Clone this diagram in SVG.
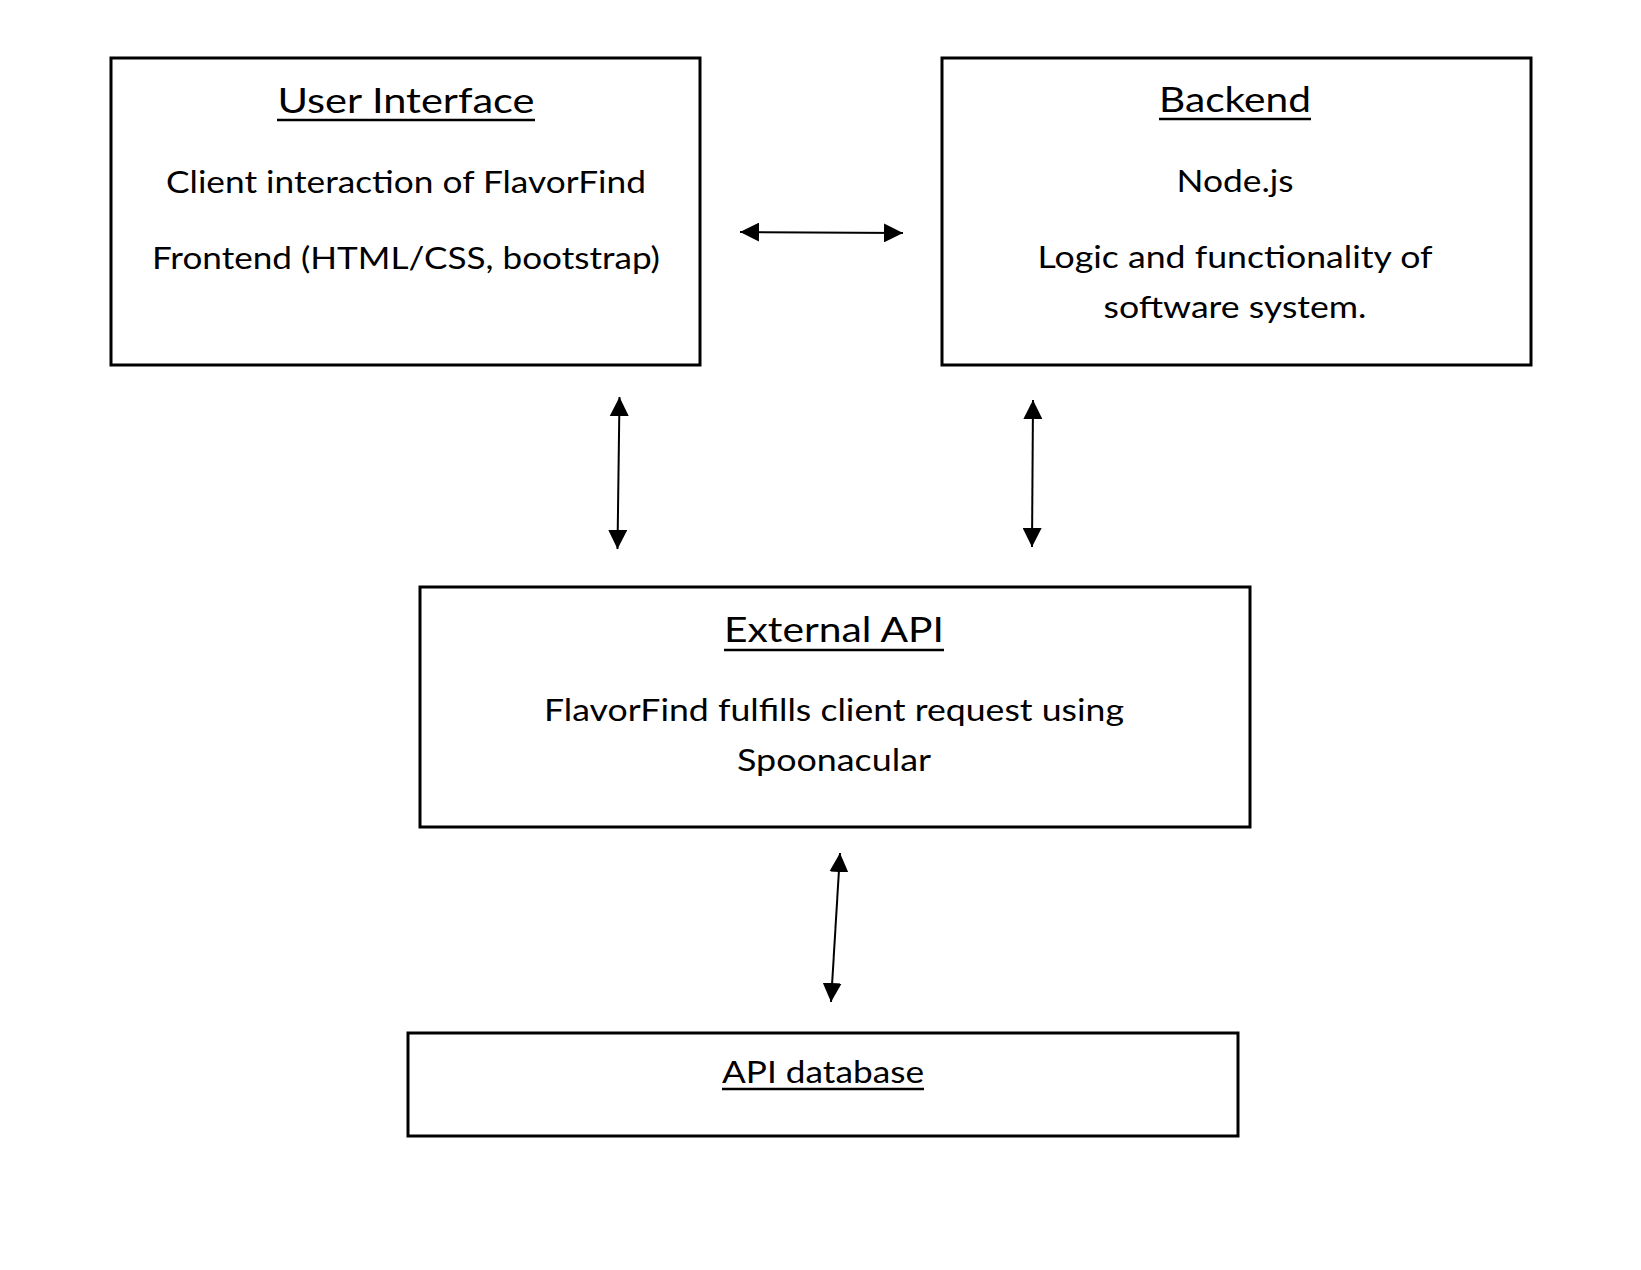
<svg xmlns="http://www.w3.org/2000/svg" width="1641" height="1270" viewBox="0 0 1641 1270">
<style>
.box{fill:#fff;stroke:#000;stroke-width:3}
.h{font-family:Lato,"Liberation Sans",sans-serif;font-size:35px;fill:#000}
.t{font-family:Lato,"Liberation Sans",sans-serif;font-size:31px;fill:#000}
.u{stroke:#000;stroke-width:2.5}
.c{stroke:#000;stroke-width:2;fill:none}
</style>
<defs>
<marker id="ah" viewBox="0 0 10 10" refX="10" refY="5" markerWidth="19" markerHeight="19" markerUnits="userSpaceOnUse" orient="auto-start-reverse">
<path d="M0,0 L10,5 L0,10 z" fill="#000"/>
</marker>
</defs>
<rect width="1641" height="1270" fill="#fff"/>
<g id="ui">
<rect class="box" x="111" y="58" width="589" height="307"/>
<text class="h" x="406" y="113" text-anchor="middle" textLength="257" lengthAdjust="spacingAndGlyphs">User Interface</text>
<line class="u" x1="277" y1="120" x2="535" y2="120"/>
<text class="t" x="406" y="193" text-anchor="middle" textLength="480" lengthAdjust="spacingAndGlyphs">Client interaction of FlavorFind</text>
<text class="t" x="406" y="269" text-anchor="middle" textLength="508" lengthAdjust="spacingAndGlyphs">Frontend (HTML/CSS, bootstrap)</text>
</g>
<g id="backend">
<rect class="box" x="942" y="58" width="589" height="307"/>
<text class="h" x="1235" y="112" text-anchor="middle" textLength="152" lengthAdjust="spacingAndGlyphs">Backend</text>
<line class="u" x1="1159" y1="119" x2="1311" y2="119"/>
<text class="t" x="1235" y="192" text-anchor="middle" textLength="117" lengthAdjust="spacingAndGlyphs">Node.js</text>
<text class="t" x="1235" y="268" text-anchor="middle" textLength="395" lengthAdjust="spacingAndGlyphs">Logic and functionality of</text>
<text class="t" x="1235" y="318" text-anchor="middle" textLength="263" lengthAdjust="spacingAndGlyphs">software system.</text>
</g>
<g id="external-api">
<rect class="box" x="420" y="587" width="830" height="240"/>
<text class="h" x="834" y="642" text-anchor="middle" textLength="220" lengthAdjust="spacingAndGlyphs">External API</text>
<line class="u" x1="724" y1="650" x2="944" y2="650"/>
<text class="t" x="834" y="721" text-anchor="middle" textLength="580" lengthAdjust="spacingAndGlyphs">FlavorFind fulfills client request using</text>
<text class="t" x="834" y="771" text-anchor="middle" textLength="194" lengthAdjust="spacingAndGlyphs">Spoonacular</text>
</g>
<g id="api-database">
<rect class="box" x="408" y="1033" width="830" height="103"/>
<text class="t" x="823" y="1083" text-anchor="middle" textLength="202" lengthAdjust="spacingAndGlyphs">API database</text>
<line class="u" x1="722" y1="1089" x2="924" y2="1089"/>
</g>
<g id="connectors">
<line class="c" x1="740" y1="232" x2="903" y2="233" marker-start="url(#ah)" marker-end="url(#ah)"/>
<line class="c" x1="619.5" y1="397" x2="617.5" y2="549" marker-start="url(#ah)" marker-end="url(#ah)"/>
<line class="c" x1="1033" y1="400" x2="1032" y2="547" marker-start="url(#ah)" marker-end="url(#ah)"/>
<line class="c" x1="840" y1="853" x2="831" y2="1002" marker-start="url(#ah)" marker-end="url(#ah)"/>
</g>
</svg>
